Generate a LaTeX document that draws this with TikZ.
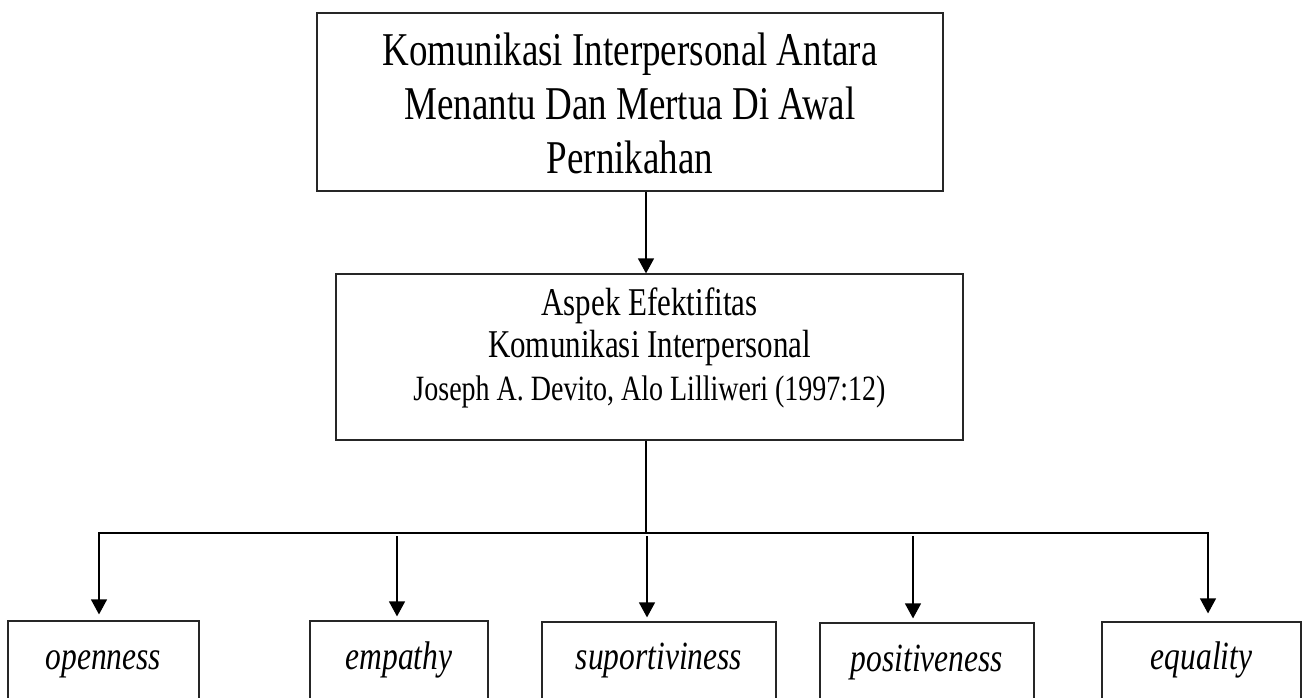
\documentclass[tikz,border=0pt]{standalone}
\usepackage{graphicx}
\usepackage{fontspec}
\setmainfont{Liberation Serif}
\usetikzlibrary{arrows.meta}
\newcommand{\vst}[1]{\scalebox{1}[1.27]{#1}}
\begin{document}
\begin{tikzpicture}[x=1pt,y=-1pt,
  box/.style={draw=black!85, line width=1.2pt, inner sep=0pt, anchor=base},
  conn/.style={draw=black, line width=1.2pt},
  arr/.style={conn, -{Triangle[width=16pt,length=15pt]}},
  leaf/.style={box, font=\fontsize{31.5}{38}\selectfont\itshape, text depth=60pt}
]
\useasboundingbox (0,0) rectangle (1308,697);
\clip (0,0) rectangle (1308,697);

\node[box, font=\fontsize{37}{42.5}\selectfont, minimum width=626pt,
      text height=160pt, text depth=18pt] (top) at (630,173)
  {\vst{\begin{tabular}[b]{@{}c@{}}Komunikasi Interpersonal Antara\\Menantu Dan Mertua Di Awal\\Pernikahan\end{tabular}}};

\node[box, font=\fontsize{31}{33.1}\selectfont, minimum width=627pt,
      text height=126pt, text depth=40pt] (mid) at (649.5,400)
  {\vst{\begin{tabular}[b]{@{}c@{}}Aspek Efektifitas\\Komunikasi Interpersonal\\{\fontsize{28}{33.1}\selectfont Joseph A. Devito, Alo Lilliweri (1997:12)}\end{tabular}}};

\node[leaf, minimum width=191pt, text height=48pt] (o1) at (103.5,669) {\vst{openness}};
\node[leaf, minimum width=178pt, text height=48pt] (o2) at (399,669) {\vst{empathy}};
\node[leaf, minimum width=234pt, text height=47pt] (o3) at (659,669) {\vst{suportiviness}};
\node[leaf, minimum width=214pt, text height=48pt] (o4) at (927,671) {\vst{positiveness}};
\node[leaf, minimum width=199pt, text height=47pt] (o5) at (1201.5,669) {\vst{equality}};

\coordinate (cx) at (646,0);
\coordinate (bm) at (646,533);
\coordinate (bl) at (99,533);
\coordinate (br) at (1208,533);
\coordinate (s2) at (397,536);
\coordinate (s3) at (647,536);
\coordinate (s4) at (913,536);

\draw[arr] (top.south -| cx) -- (mid.north -| cx);
\draw[conn] (mid.south -| bm) -- (bm);
\draw[conn, line cap=rect] (bl) -- (br);
\draw[arr, shorten >=6pt] (bl) -- (bl |- o1.north);
\draw[arr, shorten >=4pt] (s2) -- (s2 |- o2.north);
\draw[arr, shorten >=4pt] (s3) -- (s3 |- o3.north);
\draw[arr, shorten >=4pt] (s4) -- (s4 |- o4.north);
\draw[arr, shorten >=8pt] (br) -- (br |- o5.north);
\end{tikzpicture}
\end{document}
